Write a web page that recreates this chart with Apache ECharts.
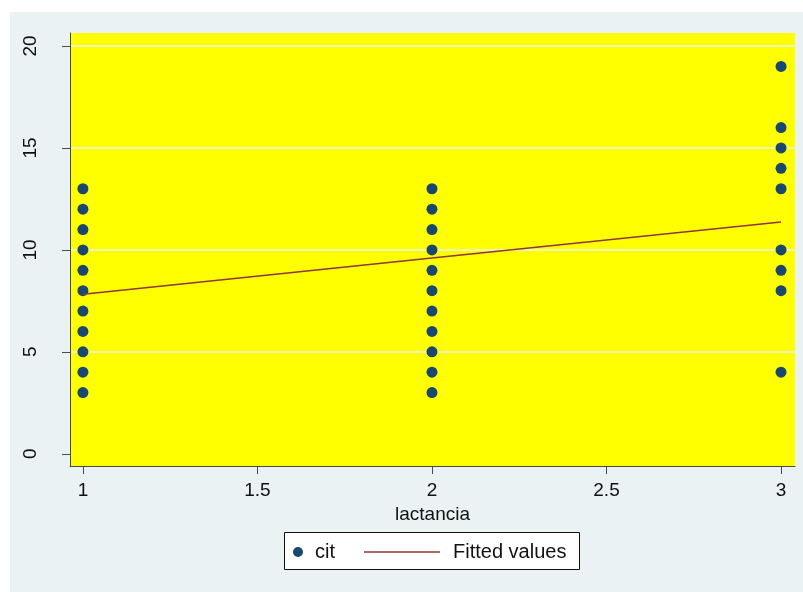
<!DOCTYPE html>
<html>
<head>
<meta charset="utf-8">
<script src="https://cdn.jsdelivr.net/npm/echarts@6/dist/echarts.min.js"></script>
<style>
html,body{margin:0;padding:0;background:#fff;}
#chart{width:803px;height:592px;}
</style>
</head>
<body>
<div id="chart"></div>
<script>
// ---- data ----
const lactanciaLevels = [1, 2, 3];
const citAtLevel1 = [3, 4, 5, 6, 7, 8, 9, 10, 11, 12, 13];
const citAtLevel2 = [3, 4, 5, 6, 7, 8, 9, 10, 11, 12, 13];
const citAtLevel3 = [4, 8, 9, 10, 13, 14, 15, 16, 19];
const fittedValues = [7.83, 9.60, 11.37];
const xTickValues = [1, 1.5, 2, 2.5, 3];
const yTickValues = [0, 5, 10, 15, 20];

const citGroups = [citAtLevel1, citAtLevel2, citAtLevel3];
const scatterData = [];
citGroups.forEach((g, i) => g.forEach(v => scatterData.push([lactanciaLevels[i], v])));
const fittedData = lactanciaLevels.map((x, i) => [x, fittedValues[i]]);

const FONT = 'Liberation Sans, Arial, sans-serif';
const TXT = '#111';
const AXIS = '#4a4a4a';
const GRIDLINE = '#eaf2f3';

const chart = echarts.init(document.getElementById('chart'), null, {renderer: 'canvas'});
chart.setOption({
  backgroundColor: '#ffffff',
  animation: false,
  graphic: [
    {type: 'rect', z: -10, shape: {x: 10, y: 12, width: 793, height: 580}, style: {fill: '#eaf2f3'}},
    {type: 'rect', z: 1, shape: {x: 284.5, y: 532.5, width: 295, height: 37}, style: {fill: '#ffffff', stroke: '#111', lineWidth: 1}}
  ],
  grid: {left: 70, top: 33, right: 8, bottom: 126, show: true, backgroundColor: '#ffff00', borderWidth: 0},
  xAxis: {
    type: 'value', min: 0.963, max: 3.04,
    name: 'lactancia', nameLocation: 'middle', nameGap: 32,
    nameTextStyle: {fontFamily: FONT, fontSize: 19, color: TXT},
    axisLine: {show: true, onZero: false, lineStyle: {color: AXIS, width: 1}},
    axisTick: {show: true, length: 8, customValues: xTickValues, lineStyle: {color: AXIS}},
    axisLabel: {customValues: xTickValues, fontFamily: FONT, fontSize: 19, color: TXT, margin: 15,
      formatter: v => String(v)},
    splitLine: {show: false}
  },
  yAxis: {
    type: 'value', min: -0.6, max: 20.64,
    axisLine: {show: true, onZero: false, lineStyle: {color: AXIS, width: 1}},
    axisTick: {show: true, length: 8, customValues: yTickValues, lineStyle: {color: AXIS}},
    axisLabel: {customValues: yTickValues, rotate: 90, fontFamily: FONT, fontSize: 19, color: TXT, margin: 30,
      formatter: v => String(v)},
    splitLine: {show: true, lineStyle: {color: ['#ffff00', GRIDLINE, GRIDLINE, GRIDLINE, GRIDLINE], width: 1.5}}
  },
  legend: [
    {
      data: [{name: 'cit', icon: 'circle'}],
      left: 293, top: 542, padding: 0, itemWidth: 10, itemHeight: 10, z: 5,
      textStyle: {fontFamily: FONT, fontSize: 20, color: TXT, padding: [0, 0, 0, 7]}
    },
    {
      data: [{name: 'Fitted values', icon: 'rect'}],
      left: 364, top: 542, padding: 0, itemWidth: 76, itemHeight: 1.5, z: 5,
      itemStyle: {color: '#90353b'},
      textStyle: {fontFamily: FONT, fontSize: 20, color: TXT, padding: [0, 0, 0, 8]}
    }
  ],
  series: [
    {
      name: 'cit', type: 'scatter', data: scatterData, symbol: 'circle', symbolSize: 11, z: 2,
      itemStyle: {color: '#1a476f', opacity: 1}
    },
    {
      name: 'Fitted values', type: 'line', data: fittedData, symbol: 'none', showSymbol: false, z: 3,
      lineStyle: {color: '#90353b', width: 1.5}, itemStyle: {color: '#90353b'}
    }
  ]
});
</script>
</body>
</html>
